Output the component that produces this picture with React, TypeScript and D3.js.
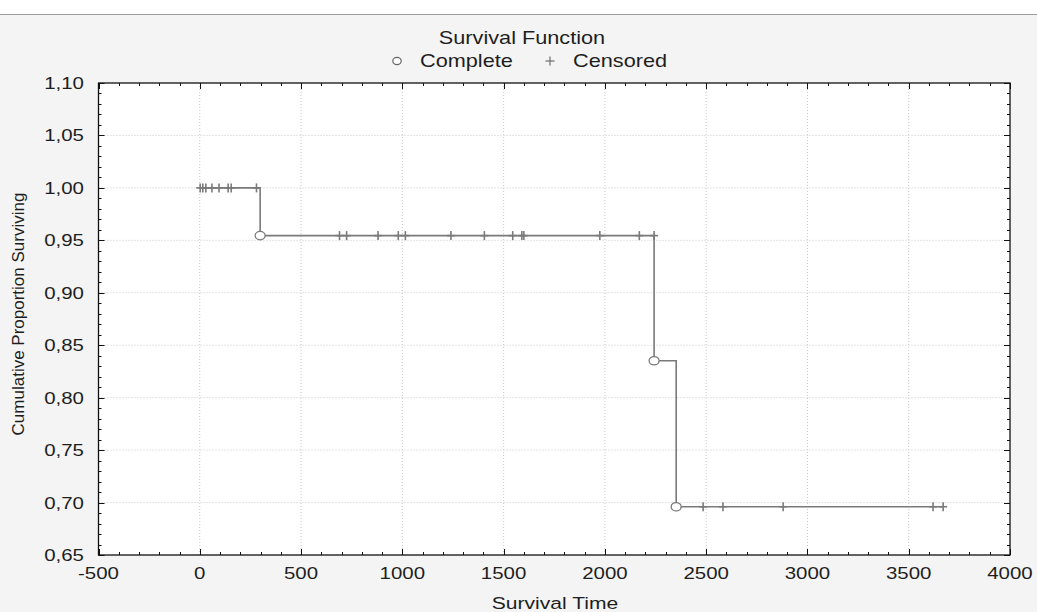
import React, { useEffect } from "react";
import * as d3 from "d3";

// ---- Data ----
const eventTimes = [298, 2243, 2352];
const eventSurvival = [0.9545, 0.8352, 0.696];
const censoredTimes = [
  2, 15, 30, 60, 95, 140, 155, 280, 690, 725, 880, 980, 1015, 1240, 1405, 1545,
  1590, 1600, 1975, 2170, 2243, 2485, 2583, 2880, 3620, 3670,
];
const xMajorTicks = [-500, 0, 500, 1000, 1500, 2000, 2500, 3000, 3500, 4000];
const yMajorTicks = [0.65, 0.7, 0.75, 0.8, 0.85, 0.9, 0.95, 1.0, 1.05, 1.1];
const titleText = "Survival Function";
const legendLabels = ["Complete", "Censored"];
const xTitle = "Survival Time";
const yTitle = "Cumulative Proportion Surviving";

const W = 1037;
const H = 612;
const FONT = "'Liberation Sans', Arial, sans-serif";
const SX = 1.24;
const LINE = "#7a7a7a";

const x = d3.scaleLinear().domain([-500, 4000]).range([98.5, 1010]);
const y = d3.scaleLinear().domain([0.65, 1.1]).range([555, 83]);

const locale = d3.formatLocale({ decimal: ",", thousands: "", grouping: [3], currency: ["", ""] });
const fmtY = locale.format(".2f");

function survBefore(t: number) {
  let s = 1;
  eventTimes.forEach((et, i) => {
    if (et < t) s = eventSurvival[i];
  });
  return s;
}

function SText(props: { x: number; y: number; anchor?: string; size?: number; sx?: number; children: any }) {
  const { x: tx, y: ty, anchor = "middle", size = 17, sx = SX, children } = props;
  return (
    <text
      transform={`translate(${tx},${ty}) scale(${sx},1)`}
      textAnchor={anchor as any}
      fontFamily={FONT}
      fontSize={size}
      fill="#1e1e1e"
    >
      {children}
    </text>
  );
}

export default function App() {
  useEffect(() => {
    document.body.style.margin = "0";
  }, []);

  const [x0, x1] = x.range();
  const [y0, y1] = y.range(); // y0 bottom, y1 top

  const xMinor = d3.range(-500, 4001, 100);
  const yMinor = d3.range(0, 46).map((i) => 0.65 + i * 0.01);

  // step path
  const startT = 0;
  const lastT = censoredTimes[censoredTimes.length - 1];
  const pts: [number, number][] = [[startT, 1]];
  let cur = 1;
  eventTimes.forEach((et, i) => {
    pts.push([et, cur]);
    cur = eventSurvival[i];
    pts.push([et, cur]);
  });
  pts.push([lastT, cur]);
  const lineGen = d3
    .line<[number, number]>()
    .x((d) => x(d[0]))
    .y((d) => y(d[1]));

  return (
    <svg width={W} height={H} style={{ display: "block" }}>
      <rect x={0} y={0} width={W} height={H} fill="#ffffff" />
      <rect x={0} y={14} width={W} height={H - 14} fill="#f4f4f4" />
      <line x1={0} x2={W} y1={14.5} y2={14.5} stroke="#9a9a9a" strokeWidth={1} />

      {/* Title & legend */}
      <SText x={522} y={44} size={17.5}>{titleText}</SText>
      <ellipse cx={397} cy={61} rx={4.2} ry={3.6} fill="#fff" stroke="#666" strokeWidth={1.2} />
      <SText x={420} y={67} anchor="start" size={17.5}>{legendLabels[0]}</SText>
      <g stroke="#777" strokeWidth={1.3}>
        <line x1={545.5} x2={554.5} y1={61} y2={61} />
        <line x1={550} x2={550} y1={56.5} y2={65.5} />
      </g>
      <SText x={573} y={67} anchor="start" size={17.5}>{legendLabels[1]}</SText>

      {/* Plot area */}
      <rect x={x0} y={y1} width={x1 - x0} height={y0 - y1} fill="#ffffff" />

      {/* Grid */}
      <g stroke="#c8c8c8" strokeWidth={1} strokeDasharray="1,2">
        {xMajorTicks.slice(1, -1).map((t) => (
          <line key={"gx" + t} x1={x(t)} x2={x(t)} y1={y1} y2={y0} />
        ))}
        {yMajorTicks.slice(1, -1).map((t) => (
          <line key={"gy" + t} x1={x0} x2={x1} y1={y(t)} y2={y(t)} />
        ))}
      </g>

      {/* Ticks */}
      <g stroke="#111" strokeWidth={1}>
        {xMinor.map((t) => {
          const major = Math.abs(t % 500) < 1e-6;
          const len = major ? 6 : 3;
          const px = Math.round(x(t)) + 0.5;
          return (
            <g key={"xt" + t}>
              <line x1={px} x2={px} y1={y0} y2={y0 - len} />
              <line x1={px} x2={px} y1={y1} y2={y1 + len} />
            </g>
          );
        })}
        {yMinor.map((t, i) => {
          const major = i % 5 === 0;
          const len = major ? 6 : 3;
          const py = Math.round(y(t)) + 0.5;
          return (
            <g key={"yt" + i}>
              <line x1={x0} x2={x0 + len} y1={py} y2={py} />
              <line x1={x1} x2={x1 - len} y1={py} y2={py} />
            </g>
          );
        })}
      </g>

      {/* Frame */}
      <rect x={x0} y={y1} width={x1 - x0} height={y0 - y1} fill="none" stroke="#111" strokeWidth={1.3} />

      {/* Tick labels */}
      {xMajorTicks.map((t) => (
        <SText key={"xl" + t} x={x(t)} y={579} size={16.5}>
          {String(t)}
        </SText>
      ))}
      {yMajorTicks.map((t) => (
        <SText key={"yl" + t} x={84} y={y(t) + 6} anchor="end" size={16.5}>
          {fmtY(t)}
        </SText>
      ))}

      {/* Axis titles */}
      <SText x={555} y={609}>{xTitle}</SText>
      <text
        transform={`translate(24,314) rotate(-90)`}
        textAnchor="middle"
        fontFamily={FONT}
        fontSize={17}
        fill="#1e1e1e"
      >
        {yTitle}
      </text>

      {/* Survival step line */}
      <path d={lineGen(pts) || ""} fill="none" stroke={LINE} strokeWidth={1.6} />

      {/* Censored markers */}
      <g stroke={LINE} strokeWidth={1.6}>
        {censoredTimes.map((t, i) => {
          const cx = x(t);
          const cy = y(survBefore(t));
          return (
            <g key={"c" + i}>
              <line x1={cx - 4} x2={cx + 4} y1={cy} y2={cy} />
              <line x1={cx} x2={cx} y1={cy - 4.5} y2={cy + 4.5} />
            </g>
          );
        })}
      </g>

      {/* Complete (event) markers */}
      {eventTimes.map((t, i) => (
        <ellipse
          key={"e" + i}
          cx={x(t)}
          cy={y(eventSurvival[i])}
          rx={5}
          ry={4.2}
          fill="#fff"
          stroke={LINE}
          strokeWidth={1.3}
        />
      ))}
    </svg>
  );
}
